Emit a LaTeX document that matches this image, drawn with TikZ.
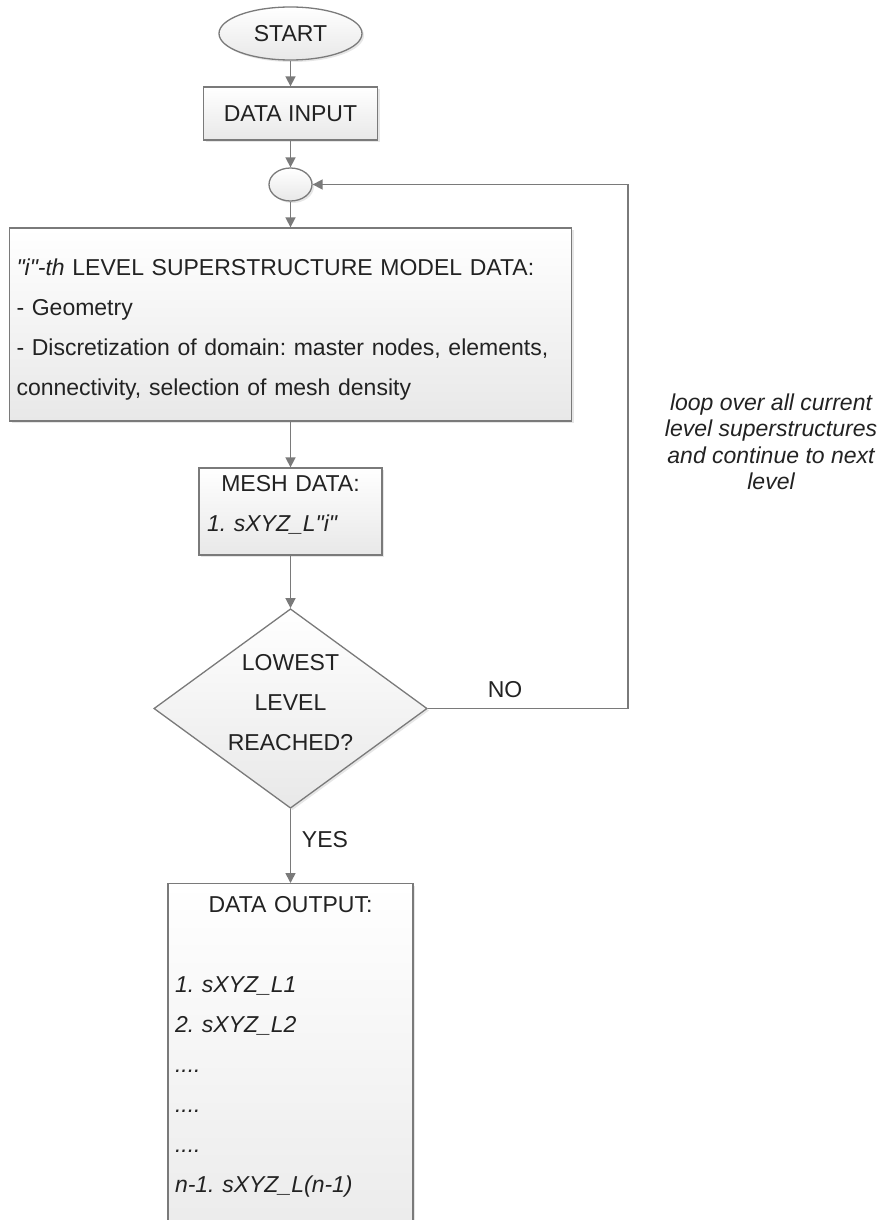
\documentclass[tikz,border=0pt]{standalone}
\usepackage{fontspec}
\setmainfont{Liberation Sans}
\usetikzlibrary{shapes.geometric,arrows.meta,shadows}
\definecolor{linegray}{HTML}{7A7A7A}
\definecolor{fillgray}{HTML}{E8E8E8}
\definecolor{textgray}{HTML}{222222}
\frenchspacing
\begin{document}
\begin{tikzpicture}[x=1pt,y=-1pt,>={Triangle[length=10pt,width=10pt]},
  blk/.style={draw=linegray,line width=1.3pt,top color=white,bottom color=fillgray,
    drop shadow={shadow xshift=2pt,shadow yshift=-2pt,opacity=.2},
    text=textgray,font=\fontsize{23}{40}\selectfont,inner sep=0pt},
  flow/.style={->,draw=linegray,line width=1.6pt},
  lbl/.style={text=textgray,font=\fontsize{23}{26.5}\selectfont}]
\useasboundingbox (0,0) rectangle (885,1220);

\node[blk,ellipse,minimum width=143pt,minimum height=53pt] (start) at (290.5,33.5) {START};
\node[blk,minimum width=174pt,minimum height=53pt] (input) at (290.5,113.5) {DATA INPUT};
\node[blk,ellipse,minimum width=43pt,minimum height=33pt] (join) at (290.5,184.5) {};
\node[blk,minimum width=562pt,minimum height=193pt,inner xsep=7pt,text width=548pt,align=left] (model) at (290.5,324.5)
  {\rule{0pt}{27pt}\textit{\textquotedbl i\textquotedbl-th} LEVEL SUPERSTRUCTURE MODEL DATA:\\- Geometry\\- Discretization of domain: master nodes, elements,\\connectivity, selection of mesh density};
\node[blk,minimum width=183pt,minimum height=87pt,inner xsep=8pt,text width=167pt,align=left] (mesh) at (290.5,511.5)
  {\hspace*{\fill}MESH DATA:\hspace*{\fill}\mbox{}\\\textit{1. sXYZ\_L\textquotedbl i\textquotedbl}\rule[-17pt]{0pt}{17pt}};
\node[blk,diamond,aspect=1.37,minimum width=273pt,minimum height=199pt,align=center] (reach) at (290.5,708.5)
  {LOWEST\\LEVEL\\REACHED?\rule[-12pt]{0pt}{12pt}};
\node[blk,anchor=north,inner xsep=7pt,inner ysep=13pt,text width=231pt,align=left] (output) at (290.5,883)
  {\hspace*{\fill}DATA OUTPUT:\hspace*{\fill}\mbox{}\\[40pt]\textit{1. sXYZ\_L1}\\\textit{2. sXYZ\_L2}\\\textit{....}\\\textit{....}\\\textit{....}\\\textit{n-1. sXYZ\_L(n-1)}\\[40pt]\mbox{}};

\node[lbl] (no) at (505,690) {NO};
\node[lbl] (yes) at (325,840) {YES};
\node[lbl,font=\itshape\fontsize{23}{26.5}\selectfont,align=center] (note) at (771,442)
  {loop over all current\\level superstructures\\and continue to next\\level};
\coordinate (bend) at (628,708.5);

\draw[flow] (start) -- (input);
\draw[flow] (input) -- (join);
\draw[flow] (join) -- (model);
\draw[flow] (model) -- (mesh);
\draw[flow] (mesh) -- (reach);
\draw[flow] (reach) -- (output);
\draw[flow] (reach.east) -- (bend) |- (join.east);

\end{tikzpicture}
\end{document}
